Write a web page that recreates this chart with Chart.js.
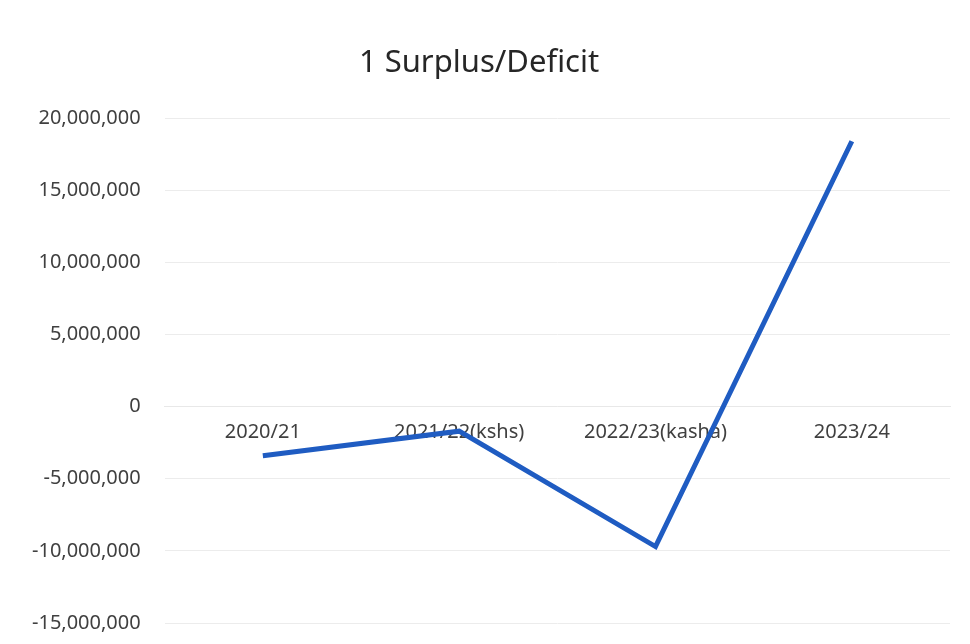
<!DOCTYPE html>
<html>
<head>
<meta charset="utf-8">
<script src="https://cdn.jsdelivr.net/npm/chart.js@4"></script>
<style>
html,body{margin:0;padding:0;background:#fff;}
#wrap{width:970px;height:644px;}
</style>
</head>
<body>
<div id="wrap"><canvas id="c" width="970" height="644"></canvas></div>
<script>
const categories = ["2020/21", "2021/22(kshs)", "2022/23(kasha)", "2023/24"];
const surplusDeficit = [-3400000, -1700000, -9700000, 18400000];
const chartTitle = "1 Surplus/Deficit";

const chart = new Chart(document.getElementById('c'), {
  type: 'line',
  data: {
    labels: categories,
    datasets: [{
      label: 'Surplus/Deficit',
      data: surplusDeficit,
      borderColor: '#1f5cc2',
      borderWidth: 5,
      pointRadius: 0,
      tension: 0,
      fill: false
    }]
  },
  options: {
    responsive: false,
    animation: false,
    layout: {padding: {left: 8, right: 20, top: 0, bottom: 0}},
    plugins: {
      legend: {display: false},
      tooltip: {enabled: false},
      title: {
        display: true,
        text: chartTitle,
        color: '#262626',
        font: {family: 'Noto Sans', size: 31, weight: 'normal'},
        padding: {top: 45, bottom: 36}
      }
    },
    scales: {
      x: {
        type: 'category',
        position: {y: 0},
        offset: true,
        afterFit: (scale) => { scale.height = 0; },
        grid: {display: false},
        border: {display: true, color: '#e8e8e8', width: 1},
        ticks: {color: '#404040', font: {family: 'Noto Sans', size: 20}, padding: 6, maxRotation: 0, autoSkip: false}
      },
      y: {
        min: -15000000,
        max: 20000000,
        afterFit: (scale) => { scale.paddingBottom = 21; scale.paddingTop = 14; },
        ticks: {
          stepSize: 5000000,
          color: '#404040',
          font: {family: 'Noto Sans', size: 20},
          padding: 24,
          callback: v => v.toLocaleString('en-US')
        },
        grid: {color: '#ececec', drawTicks: false},
        border: {display: false}
      }
    }
  }
});
</script>
</body>
</html>
